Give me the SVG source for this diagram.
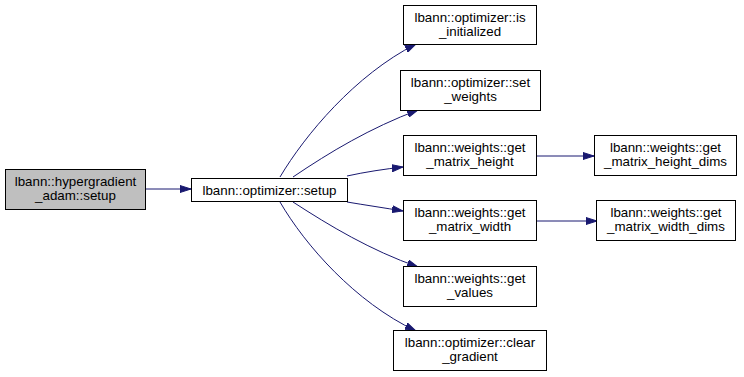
<svg xmlns="http://www.w3.org/2000/svg" width="744" height="377" viewBox="0 0 744 377">
<style>
  .box { fill: #ffffff; stroke: #000000; stroke-width: 1; }
  .cur { fill: #bfbfbf; stroke: #000000; stroke-width: 1; }
  text { font-family: "Liberation Sans", Arial, Helvetica, sans-serif; font-size: 13.33px; fill: #000000; text-anchor: middle; }
  .edge { fill: none; stroke: #191970; stroke-width: 1; }
</style>
<defs>
  <marker id="arrow" markerWidth="11" markerHeight="8" refX="11" refY="4" orient="auto" markerUnits="userSpaceOnUse">
    <polygon points="0,0.5 11,4 0,7.5" fill="#191970" stroke="#191970" stroke-width="1"/>
  </marker>
</defs>
<rect width="744" height="377" fill="#ffffff"/>

<g id="edges">
  <path class="edge" d="M145,189 L191,189" marker-end="url(#arrow)"/>
  <path class="edge" d="M280,177 C305,135 355,75 416,44" marker-end="url(#arrow)"/>
  <path class="edge" d="M293,177 C330,152 370,128 418,110" marker-end="url(#arrow)"/>
  <path class="edge" d="M347,176 C365,172 385,169 403,167" marker-end="url(#arrow)"/>
  <path class="edge" d="M347,202 C365,205 385,208 403,211" marker-end="url(#arrow)"/>
  <path class="edge" d="M293,202 C330,226 370,250 418,267" marker-end="url(#arrow)"/>
  <path class="edge" d="M280,202 C305,245 355,302 416,331" marker-end="url(#arrow)"/>
  <path class="edge" d="M537,156 L594,156" marker-end="url(#arrow)"/>
  <path class="edge" d="M537,221 L597,221" marker-end="url(#arrow)"/>
</g>

<g id="node_hypergradient_adam_setup">
  <rect class="cur" x="5.5" y="169.5" width="140" height="40"/>
  <text x="75.5" y="186">lbann::hypergradient</text>
  <text x="75.5" y="200">_adam::setup</text>
</g>
<g id="node_optimizer_setup">
  <rect class="box" x="191.5" y="178.5" width="156" height="23"/>
  <text x="269.5" y="194.5">lbann::optimizer::setup</text>
</g>
<g id="node_optimizer_is_initialized">
  <rect class="box" x="403.5" y="5.5" width="133" height="39"/>
  <text x="470" y="21.5">lbann::optimizer::is</text>
  <text x="470" y="35.5">_initialized</text>
</g>
<g id="node_optimizer_set_weights">
  <rect class="box" x="400.5" y="70.5" width="140" height="40"/>
  <text x="470.5" y="87">lbann::optimizer::set</text>
  <text x="470.5" y="101">_weights</text>
</g>
<g id="node_weights_get_matrix_height">
  <rect class="box" x="403.5" y="135.5" width="133" height="40"/>
  <text x="470" y="152">lbann::weights::get</text>
  <text x="470" y="166">_matrix_height</text>
</g>
<g id="node_weights_get_matrix_height_dims">
  <rect class="box" x="594.5" y="135.5" width="142" height="40"/>
  <text x="665.5" y="152">lbann::weights::get</text>
  <text x="665.5" y="166">_matrix_height_dims</text>
</g>
<g id="node_weights_get_matrix_width">
  <rect class="box" x="403.5" y="200.5" width="133" height="40"/>
  <text x="470" y="217">lbann::weights::get</text>
  <text x="470" y="231">_matrix_width</text>
</g>
<g id="node_weights_get_matrix_width_dims">
  <rect class="box" x="596.5" y="200.5" width="139" height="40"/>
  <text x="666" y="217">lbann::weights::get</text>
  <text x="666" y="231">_matrix_width_dims</text>
</g>
<g id="node_weights_get_values">
  <rect class="box" x="403.5" y="266.5" width="133" height="40"/>
  <text x="470" y="283">lbann::weights::get</text>
  <text x="470" y="297">_values</text>
</g>
<g id="node_optimizer_clear_gradient">
  <rect class="box" x="393.5" y="330.5" width="153" height="40"/>
  <text x="470" y="347">lbann::optimizer::clear</text>
  <text x="470" y="361">_gradient</text>
</g>
</svg>
